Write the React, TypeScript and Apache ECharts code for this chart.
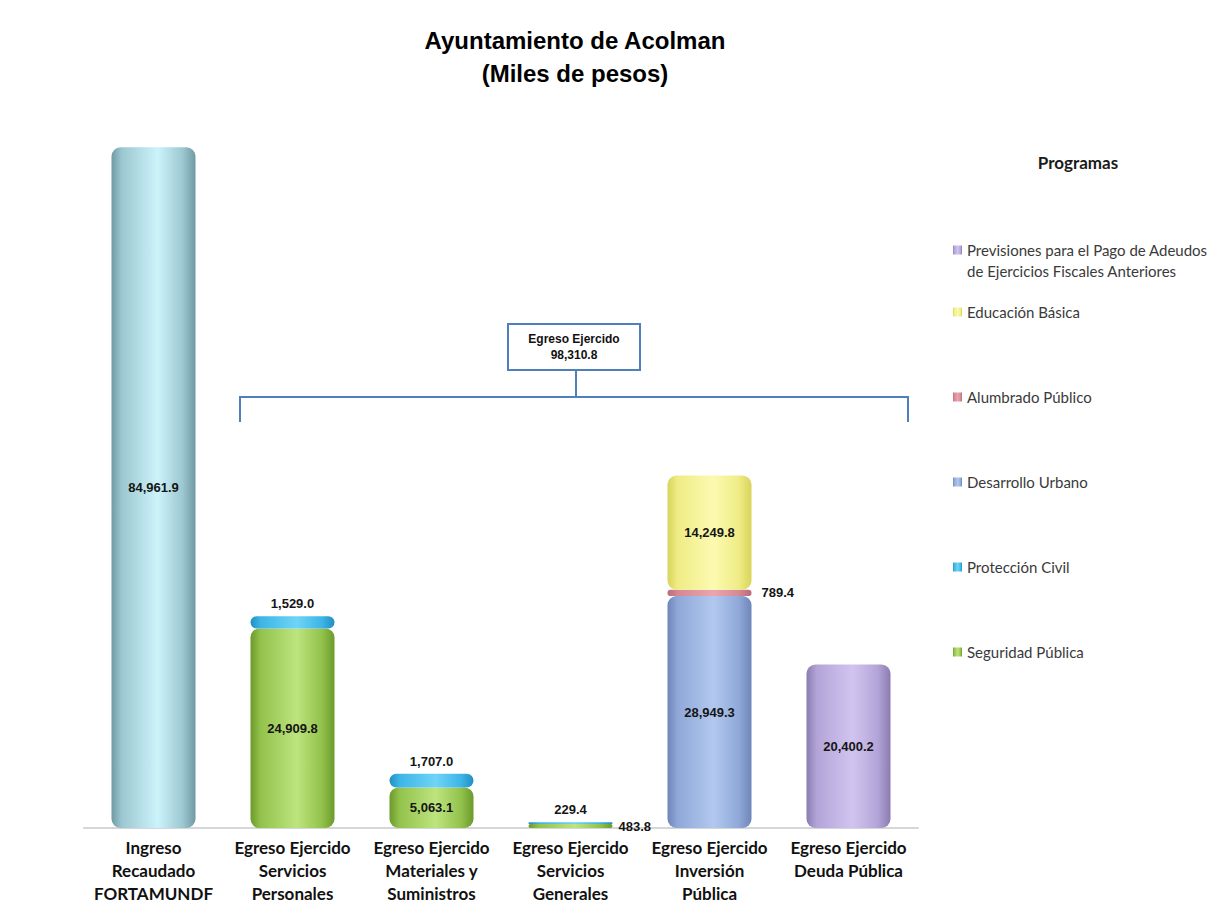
import React, { useEffect, useRef } from "react";
import * as echarts from "echarts";

const categories = [
  "Ingreso\nRecaudado\nFORTAMUNDF",
  "Egreso Ejercido\nServicios\nPersonales",
  "Egreso Ejercido\nMateriales y\nSuministros",
  "Egreso Ejercido\nServicios\nGenerales",
  "Egreso Ejercido\nInversión\nPública",
  "Egreso Ejercido\nDeuda Pública",
];

const ingreso = [84961.9, null, null, null, null, null];
const seguridad = [null, 24909.8, 5063.1, 483.8, null, null];
const proteccion = [null, 1529.0, 1707.0, 229.4, null, null];
const desarrollo = [null, null, null, null, 28949.3, null];
const alumbrado = [null, null, null, null, 789.4, null];
const educacion = [null, null, null, null, 14249.8, null];
const previsiones = [null, null, null, null, null, 20400.2];

const totalEgreso = "98,310.8";

const legendNames = [
  "Previsiones para el Pago de Adeudos de Ejercicios Fiscales Anteriores",
  "Educación Básica",
  "Alumbrado Público",
  "Desarrollo Urbano",
  "Protección Civil",
  "Seguridad Pública",
];

const fmt = (v: number) =>
  v.toLocaleString("en-US", { minimumFractionDigits: 1, maximumFractionDigits: 1 });

const cyl = (dark: string, light: string, mid: string) =>
  new echarts.graphic.LinearGradient(0, 0, 1, 0, [
    { offset: 0, color: dark },
    { offset: 0.12, color: mid },
    { offset: 0.55, color: light },
    { offset: 0.85, color: mid },
    { offset: 1, color: dark },
  ]);

export default function App() {
  const ref = useRef<HTMLDivElement>(null);
  useEffect(() => {
    if (!ref.current) return;
    document.body.style.margin = "0";
    document.body.style.overflow = "hidden";
    const chart = echarts.init(ref.current, undefined, { renderer: "svg" });
    const labelFont = {
      fontFamily: "Liberation Sans, Arial, sans-serif",
      fontWeight: "bold" as const,
      fontSize: 13,
      color: "#151515",
    };
    const mk = (
      name: string,
      data: (number | null)[],
      color: any,
      pos: string,
      overrides: Record<number, string> = {},
      distance = 6
    ) => ({
      name,
      type: "bar",
      stack: "a",
      barWidth: 84,
      itemStyle: { color, borderRadius: 9 },
      label: {
        show: true,
        position: pos,
        distance,
        formatter: (p: any) => fmt(p.value),
        ...labelFont,
      },
      data: data.map((v, i) =>
        overrides[i] && v != null
          ? { value: v, label: { position: overrides[i] } }
          : v
      ),
    });

    const series = [
      mk("Ingreso Recaudado FORTAMUNDF", ingreso, cyl("#6f9aa4", "#ccf3fa", "#9cc7d1"), "inside"),
      mk(legendNames[5], seguridad, cyl("#6c9a2c", "#bde47e", "#93c24c"), "inside", { 3: "right" }),
      mk(legendNames[4], proteccion, cyl("#1f8fc0", "#6fd4f7", "#3db5e6"), "top"),
      mk(legendNames[3], desarrollo, cyl("#6e86b8", "#b2c8ef", "#8fa8d8"), "inside"),
      mk(legendNames[2], alumbrado, cyl("#b86a78", "#eaa6ae", "#d48893"), "right", {}, 10),
      mk(legendNames[1], educacion, cyl("#d8d45a", "#fcfab0", "#efec86"), "inside"),
      mk(legendNames[0], previsiones, cyl("#8a7bb0", "#d2c4f0", "#b3a4d8"), "inside"),
    ];

    const legendCenters = [250, 312, 397, 482, 567, 652];
    const legendText = {
      fontFamily: "Lato, 'Open Sans', sans-serif",
      fontSize: 15,
      color: "#3a3a3a",
      lineHeight: 21,
    };
    const legends = legendNames.map((name, i) => ({
      data: [name],
      orient: "vertical",
      left: 953,
      top: i === 0 ? legendCenters[i] - 31.5 : legendCenters[i] - 10.5,
      padding: 0,
      icon: "rect",
      itemWidth: 9,
      itemHeight: 9,
      selectedMode: false,
      formatter:
        i === 0
          ? () => " \nPrevisiones para el Pago de Adeudos\nde Ejercicios Fiscales Anteriores"
          : undefined,
      textStyle: legendText,
    }));

    const blue = "#4f7fbd";
    chart.setOption({
      animation: false,
      backgroundColor: "#ffffff",
      grid: { left: 84, right: 291, top: 107, bottom: 77 },
      xAxis: {
        type: "category",
        data: categories,
        axisTick: { show: false },
        axisLine: { lineStyle: { color: "#d6d6d6", width: 2 } },
        axisLabel: {
          interval: 0,
          margin: 8,
          lineHeight: 23,
          fontFamily: "Lato, 'Open Sans', sans-serif",
          fontWeight: "bold",
          fontSize: 17,
          color: "#111111",
        },
      },
      yAxis: {
        type: "value",
        min: 0,
        max: 90000,
        show: false,
      },
      legend: legends,
      series,
      graphic: [
        {
          type: "text",
          style: {
            text: "Ayuntamiento de Acolman",
            x: 575,
            y: 40,
            align: "center",
            verticalAlign: "middle",
            font: "bold 24px 'Liberation Sans', Arial, sans-serif",
            fill: "#000000",
          },
        },
        {
          type: "text",
          style: {
            text: "(Miles de pesos)",
            x: 575,
            y: 73,
            align: "center",
            verticalAlign: "middle",
            font: "bold 24px 'Liberation Sans', Arial, sans-serif",
            fill: "#000000",
          },
        },
        {
          type: "text",
          style: {
            text: "Programas",
            x: 1078,
            y: 162,
            align: "center",
            verticalAlign: "middle",
            font: "bold 17px Lato, 'Open Sans', sans-serif",
            fill: "#1a1a1a",
          },
        },
        {
          type: "polyline",
          shape: { points: [[240, 422], [240, 397], [908, 397], [908, 422]] },
          style: { stroke: blue, lineWidth: 2, fill: "none" },
        },
        {
          type: "line",
          shape: { x1: 576, y1: 370, x2: 576, y2: 397 },
          style: { stroke: blue, lineWidth: 2 },
        },
        {
          type: "rect",
          shape: { x: 508, y: 324, width: 132, height: 46 },
          style: { stroke: blue, lineWidth: 2, fill: "#ffffff" },
        },
        {
          type: "text",
          style: {
            text: "Egreso Ejercido",
            x: 574,
            y: 339,
            align: "center",
            verticalAlign: "middle",
            font: "bold 12px 'Liberation Sans', Arial, sans-serif",
            fill: "#111111",
          },
        },
        {
          type: "text",
          style: {
            text: totalEgreso,
            x: 574,
            y: 355,
            align: "center",
            verticalAlign: "middle",
            font: "bold 12px 'Liberation Sans', Arial, sans-serif",
            fill: "#111111",
          },
        },
      ],
    });
    return () => chart.dispose();
  }, []);
  return (
    <div
      ref={ref}
      style={{ position: "absolute", left: 0, top: 0, width: 1209, height: 905 }}
    />
  );
}
